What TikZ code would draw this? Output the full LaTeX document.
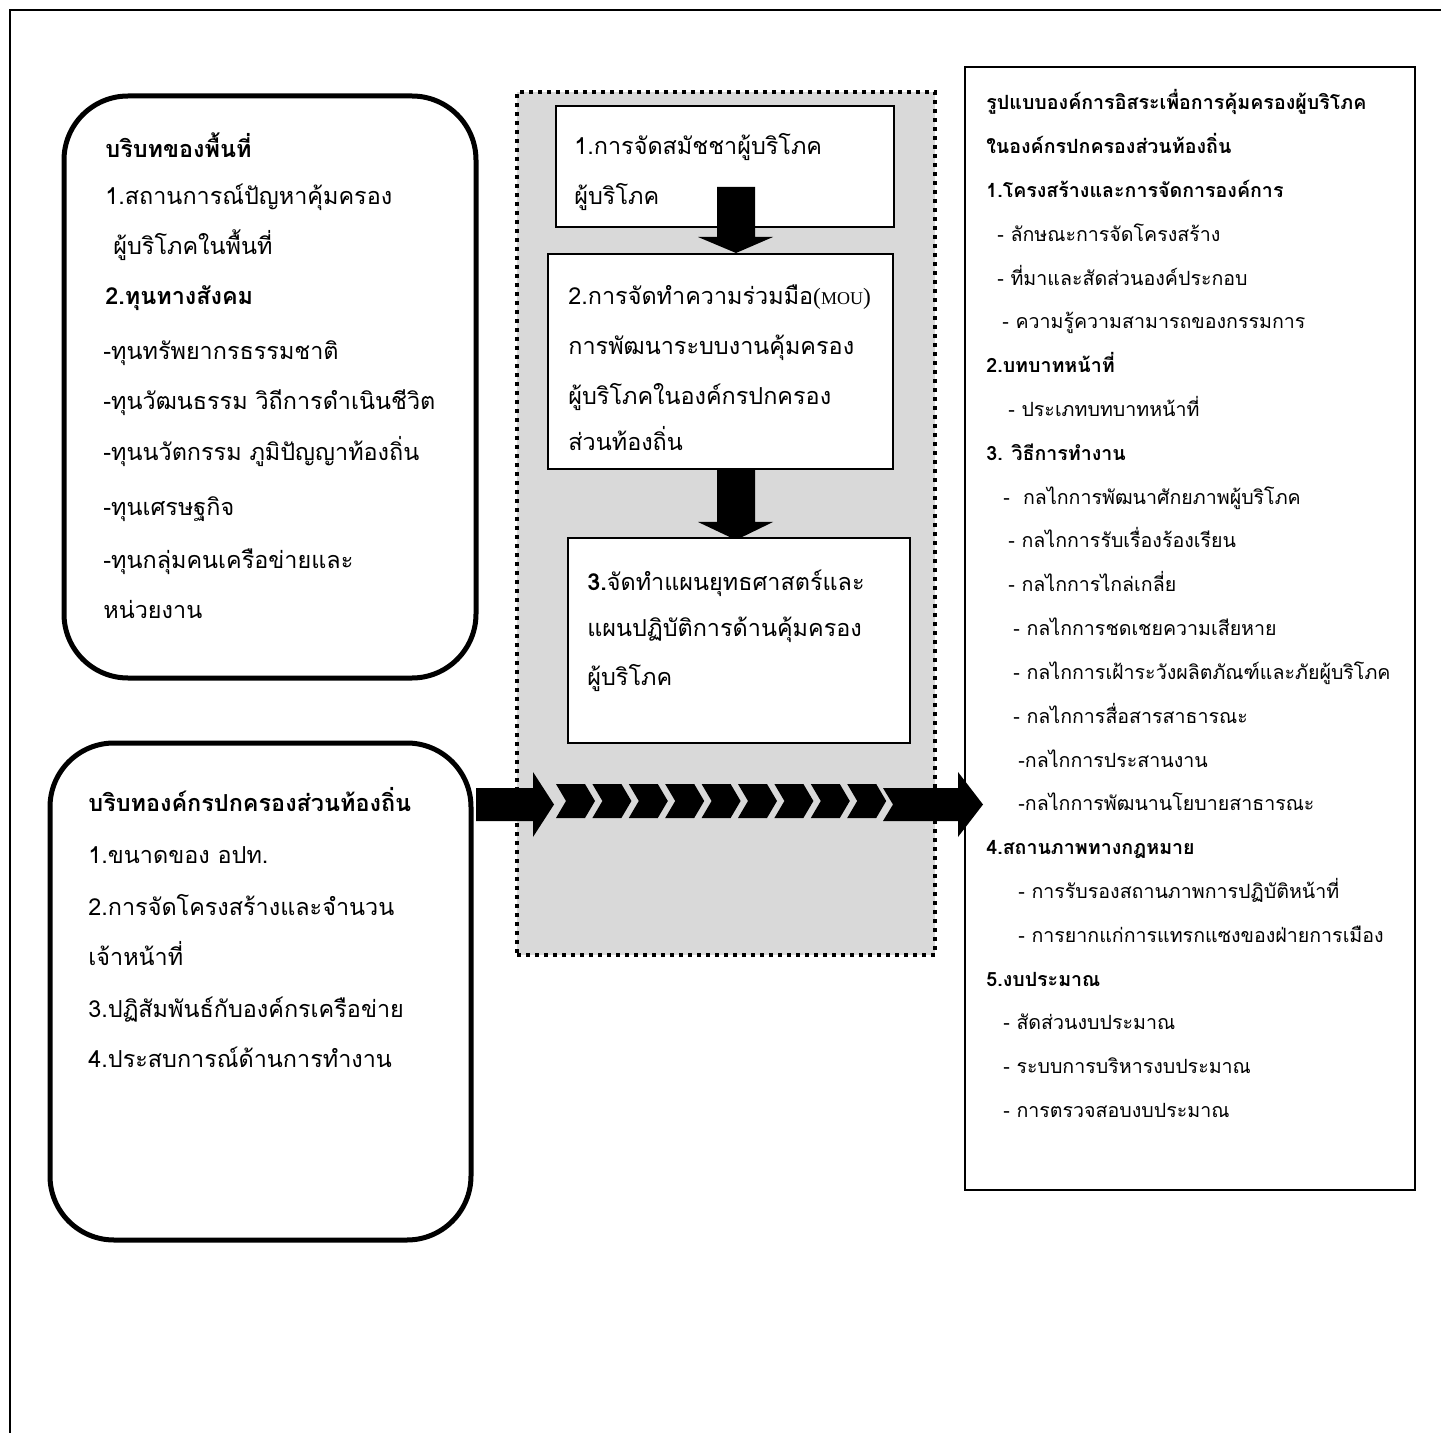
\documentclass[tikz,border=0pt]{standalone}
\usepackage{fontspec}
\setmainfont[Script=Thai]{Loma}
\newfontfamily\lserif{Liberation Serif}
\usetikzlibrary{fit}
\definecolor{panelgray}{HTML}{D9D9D9}
\tikzset{
  roundbox/.style={draw, line width=2.5pt, rounded corners=32pt, inner sep=0pt},
  plainbox/.style={draw, line width=1pt, fill=white, inner sep=0pt},
  panel/.style={draw, line width=2pt, dash pattern=on 2pt off 2.5pt, fill=panelgray, inner sep=0pt},
  bigtext/.style={anchor=base west, inner sep=0pt, font=\fontsize{11.7}{14}\selectfont},
  smalltext/.style={anchor=base west, inner sep=0pt, font=\fontsize{9.8}{12}\selectfont},
  blockarrow/.style={fill=black, draw=none},
}
\begin{document}
\begin{tikzpicture}[x=0.5pt,y=-0.5pt]
\useasboundingbox (0,0) rectangle (1441,1433);
% outer frame (top and left)
\draw[line width=1.2pt] (1441,10) -- (10,10) -- (10,1433);

% left top rounded box
\coordinate (a1) at (64,96); \coordinate (a2) at (476,678);
\node[roundbox, fit=(a1)(a2)] (boxA) {};
\node[bigtext] (tA0) at (105,158) {\bfseries บริบทของพื้นที่};
\node[bigtext] (tA1) at (105,205) {1.สถานการณ์ปัญหาคุ้มครอง};
\node[bigtext] (tA2) at (113,255) {ผู้บริโภคในพื้นที่};
\node[bigtext] (tA3) at (105,305) {\bfseries 2.ทุนทางสังคม};
\node[bigtext] (tA4) at (103,360) {-ทุนทรัพยากรธรรมชาติ};
\node[bigtext] (tA5) at (103,410) {-ทุนวัฒนธรรม วิถีการดำเนินชีวิต};
\node[bigtext] (tA6) at (103,461) {-ทุนนวัตกรรม ภูมิปัญญาท้องถิ่น};
\node[bigtext] (tA7) at (103,516) {-ทุนเศรษฐกิจ};
\node[bigtext] (tA8) at (103,568) {-ทุนกลุ่มคนเครือข่ายและ};
\node[bigtext] (tA9) at (103,618) {หน่วยงาน};

% left bottom rounded box
\coordinate (b1) at (50,743); \coordinate (b2) at (471,1240);
\node[roundbox, fit=(b1)(b2)] (boxB) {};
\node[bigtext] (tB0) at (88,811) {\bfseries บริบทองค์กรปกครองส่วนท้องถิ่น};
\node[bigtext] (tB1) at (88,863) {1.ขนาดของ อปท.};
\node[bigtext] (tB2) at (88,915) {2.การจัดโครงสร้างและจำนวน};
\node[bigtext] (tB3) at (88,965) {เจ้าหน้าที่};
\node[bigtext] (tB4) at (88,1017) {3.ปฏิสัมพันธ์กับองค์กรเครือข่าย};
\node[bigtext] (tB5) at (88,1067) {4.ประสบการณ์ด้านการทำงาน};

% middle dotted panel
\coordinate (p1) at (517,92); \coordinate (p2) at (935,955);
\node[panel, fit=(p1)(p2)] (panel) {};

% box 1
\coordinate (c1) at (556,106); \coordinate (c2) at (894,227);
\node[plainbox, fit=(c1)(c2)] (box1) {};
\node[bigtext] (t10) at (574,155) {1.การจัดสมัชชาผู้บริโภค};
\node[bigtext] (t11) at (574,205) {ผู้บริโภค};
% down arrow 1
\fill[blockarrow] (717,187) -- (755,187) -- (755,237) -- (773,237) -- (736,253) -- (698,237) -- (717,237) -- cycle;

% box 2
\coordinate (d1) at (548,254); \coordinate (d2) at (893,469);
\node[plainbox, fit=(d1)(d2)] (box2) {};
\node[bigtext] (t20) at (568,305) {2.การจัดทำความร่วมมือ{\lserif(\fontsize{9}{10}\selectfont MOU\fontsize{11.7}{14}\selectfont)}};
\node[bigtext] (t21) at (568,355) {การพัฒนาระบบงานคุ้มครอง};
\node[bigtext] (t22) at (568,405) {ผู้บริโภคในองค์กรปกครอง};
\node[bigtext] (t23) at (568,451) {ส่วนท้องถิ่น};
% down arrow 2
\fill[blockarrow] (717,469) -- (755,469) -- (755,522) -- (773,522) -- (736,540) -- (698,522) -- (717,522) -- cycle;

% box 3
\coordinate (e1) at (568,538); \coordinate (e2) at (910,743);
\node[plainbox, fit=(e1)(e2)] (box3) {};
\node[bigtext] (t30) at (587,590) {\textbf{3.}จัดทำแผนยุทธศาสตร์และ};
\node[bigtext] (t31) at (587,636) {แผนปฏิบัติการด้านคุ้มครอง};
\node[bigtext] (t32) at (587,685) {ผู้บริโภค};

% right box
\coordinate (f1) at (965,67); \coordinate (f2) at (1415,1190);
\node[plainbox, line width=1.2pt, fit=(f1)(f2)] (boxR) {};
\foreach \xx/\tt [count=\i from 0] in {
  986/{\bfseries รูปแบบองค์การอิสระเพื่อการคุ้มครองผู้บริโภค},
  986/{\bfseries ในองค์กรปกครองส่วนท้องถิ่น},
  986/{\bfseries 1.โครงสร้างและการจัดการองค์การ},
  997/{- ลักษณะการจัดโครงสร้าง},
  997/{- ที่มาและสัดส่วนองค์ประกอบ},
  1002/{- ความรู้ความสามารถของกรรมการ},
  986/{\bfseries 2.บทบาทหน้าที่},
  1008/{- ประเภทบทบาทหน้าที่},
  986/{\bfseries 3. วิธีการทำงาน},
  1003/{-\ \ กลไกการพัฒนาศักยภาพผู้บริโภค},
  1008/{- กลไกการรับเรื่องร้องเรียน},
  1008/{- กลไกการไกล่เกลี่ย},
  1013/{- กลไกการชดเชยความเสียหาย},
  1013/{- กลไกการเฝ้าระวังผลิตภัณฑ์และภัยผู้บริโภค},
  1013/{- กลไกการสื่อสารสาธารณะ},
  1018/{-กลไกการประสานงาน},
  1018/{-กลไกการพัฒนานโยบายสาธารณะ},
  986/{\bfseries 4.สถานภาพทางกฎหมาย},
  1018/{- การรับรองสถานภาพการปฏิบัติหน้าที่},
  1018/{- การยากแก่การแทรกแซงของฝ่ายการเมือง},
  986/{\bfseries 5.งบประมาณ},
  1003/{- สัดส่วนงบประมาณ},
  1003/{- ระบบการบริหารงบประมาณ},
  1003/{- การตรวจสอบงบประมาณ}}
  \node[smalltext] (r\i) at (\xx,{110+43.8*\i}) {\tt};

% horizontal arrows
\fill[blockarrow] (476,788) -- (533,788) -- (533,772) -- (554,804.5) -- (533,837) -- (533,821) -- (476,821) -- cycle;
\foreach \k in {0,...,8}{
  \fill[blockarrow] ({556+36.4*\k},784) -- ({585+36.4*\k},784) -- ({595+36.4*\k},801) -- ({585+36.4*\k},818) -- ({556+36.4*\k},818) -- ({566+36.4*\k},801) -- cycle;
}
\fill[blockarrow] (883,788) -- (958,788) -- (958,772) -- (983,804.5) -- (958,837) -- (958,821) -- (883,821) -- (893,804.5) -- cycle;
\end{tikzpicture}
\end{document}
